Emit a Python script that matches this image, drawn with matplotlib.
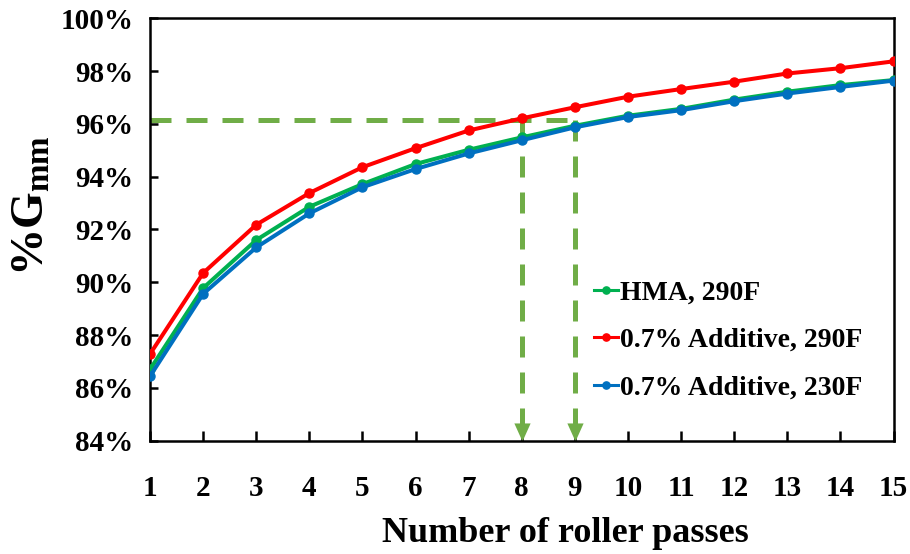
import matplotlib
matplotlib.use("Agg")
import matplotlib.pyplot as plt
from matplotlib.ticker import FuncFormatter

# Compaction curves: % of maximum theoretical specific gravity vs. roller passes
passes = list(range(1, 16))
hma_290 = [86.70, 89.78, 91.60, 92.86, 93.72, 94.48, 95.02, 95.49,
           95.93, 96.31, 96.57, 96.92, 97.22, 97.47, 97.66]
add_290 = [87.28, 90.35, 92.18, 93.38, 94.36, 95.08, 95.75, 96.21,
           96.63, 97.03, 97.32, 97.60, 97.91, 98.11, 98.37]
add_230 = [86.44, 89.56, 91.32, 92.61, 93.60, 94.29, 94.88, 95.38,
           95.87, 96.26, 96.52, 96.86, 97.15, 97.40, 97.64]
labels = ["HMA, 290F", "0.7% Additive, 290F", "0.7% Additive, 230F"]
colors = ["#00B050", "#FF0000", "#0070C0"]

# Target density and the pass counts where it is reached
target = 96.15
target_passes = [8, 9]

y_ticks = list(range(84, 101, 2))

plt.rcParams["font.family"] = ["Liberation Serif", "DejaVu Serif"]
plt.rcParams["font.weight"] = "bold"
plt.rcParams["mathtext.default"] = "regular"

W, H = 910, 554
fig = plt.figure(figsize=(W / 100, H / 100), dpi=100)
ax = fig.add_axes([150 / W, 1 - 440.7 / H, (893.6 - 150) / W, (440.7 - 18.3) / H])

guide = "#70AD47"
dash = (0, (4.2, 3.0))
gl = 3.6
ax.plot([passes[0], target_passes[1]], [target, target], color=guide,
        lw=gl, ls=dash, zorder=1, dash_capstyle="butt")
for p in target_passes:
    ax.plot([p, p], [target, y_ticks[0] + 0.6], color=guide, lw=gl, ls=dash,
            zorder=1, dash_capstyle="butt")
    ax.plot([p], [y_ticks[0]], marker=[(-0.45, 1.0), (0.45, 1.0), (0, 0)],
            ms=26, color=guide, mec=guide, mew=0, ls="none", clip_on=False, zorder=2)

series = [hma_290, add_290, add_230]
handles = []
for vals, lab, col in zip(series, labels, colors):
    h, = ax.plot(passes, vals, color=col, lw=2.9, marker="o", ms=6.5,
                 label=lab, zorder=3)
    handles.append(h)

ax.set_xlim(1, 15)
ax.set_ylim(84, 100)
ax.set_xticks(passes)
ax.set_yticks(y_ticks)
ax.yaxis.set_major_formatter(FuncFormatter(lambda v, _: f"{v:.0f}%"))
ax.tick_params(axis="x", direction="in", length=7, width=1.8,
               labelsize=21, pad=25)
ax.tick_params(axis="y", direction="in", length=5.5, width=1.8,
               labelsize=21, pad=12)
for lab in ax.get_xticklabels() + ax.get_yticklabels():
    lab.set_fontweight("bold")
for s in ax.spines.values():
    s.set_linewidth(1.8)

fig.text(565 / W, 1 - 533 / H, "Number of roller passes", ha="center",
         va="center", fontsize=26, fontweight="bold")
fig.text(33 / W, 1 - 206 / H, "%G$_{mm}$", rotation=90, ha="center",
         va="center", fontsize=34, fontweight="bold")

leg = fig.legend(handles=handles, loc="upper left",
                 bbox_to_anchor=(594 / W, 1 - 280 / H), frameon=False,
                 fontsize=20, handlelength=0.85, handletextpad=0.08,
                 labelspacing=0.8, borderpad=0, borderaxespad=0,
                 markerscale=0.8)
for t in leg.get_texts():
    t.set_fontweight("bold")
for lh in leg.get_lines():
    lh.set_linewidth(2.2)

fig.savefig("out.png", dpi=100)
